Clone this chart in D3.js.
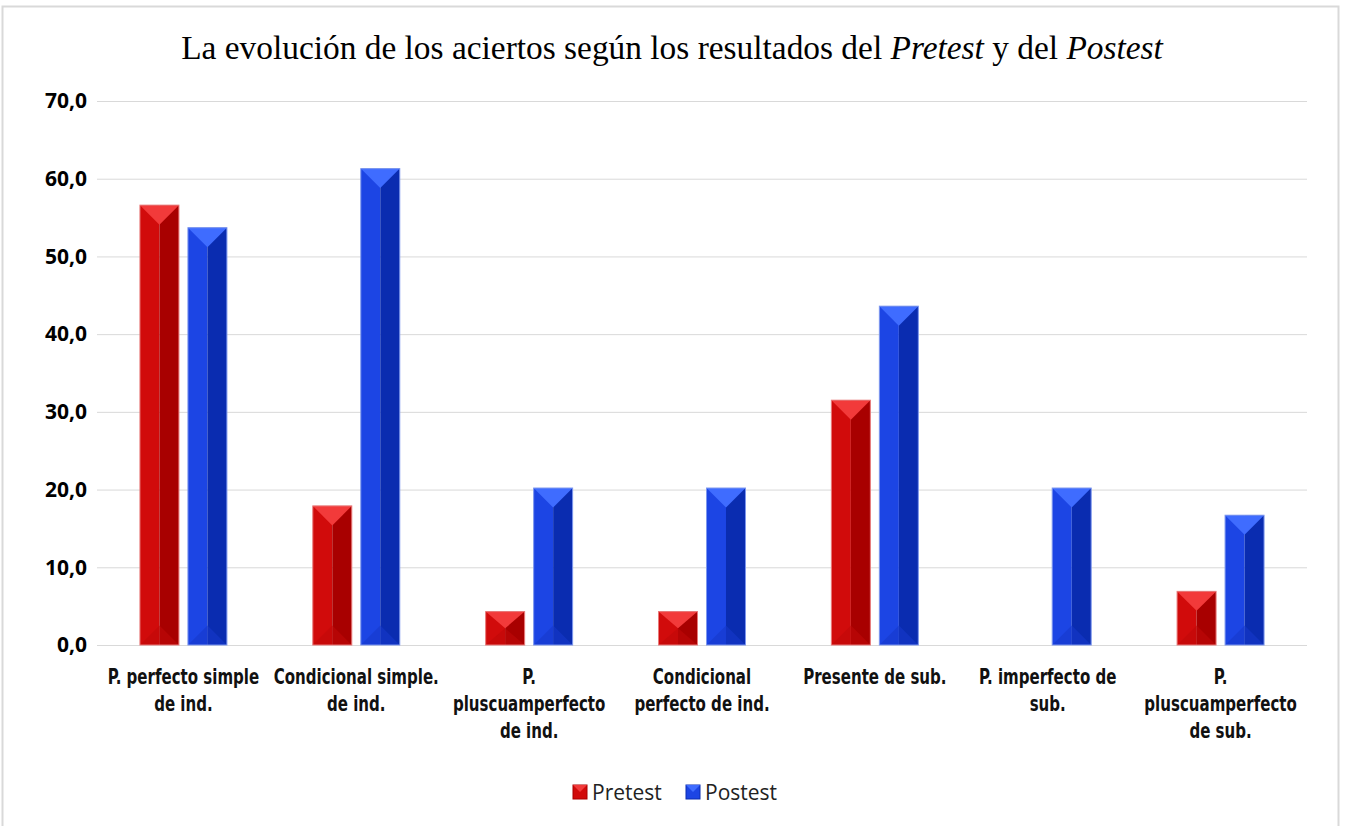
<!DOCTYPE html>
<html>
<head>
<meta charset="utf-8">
<script src="https://cdnjs.cloudflare.com/ajax/libs/d3/7.8.5/d3.min.js"></script>
<style>
  body { margin: 0; background: #fff; }
</style>
</head>
<body>
<script>
const categories = [
  ['P. perfecto simple', 'de ind.'],
  ['Condicional simple.', 'de ind.'],
  ['P.', 'pluscuamperfecto', 'de ind.'],
  ['Condicional', 'perfecto de ind.'],
  ['Presente de sub.'],
  ['P. imperfecto de', 'sub.'],
  ['P.', 'pluscuamperfecto', 'de sub.']
];
const pretest = [56.6, 17.9, 4.3, 4.3, 31.5, 0, 6.9];
const postest = [53.7, 61.3, 20.2, 20.2, 43.6, 20.2, 16.7];
const yTicks = [0, 10, 20, 30, 40, 50, 60, 70];
const seriesNames = ['Pretest', 'Postest'];

const width = 1345;
const height = 826;
const plotLeft = 97, plotRight = 1307, plotTop = 101, plotBottom = 645;

const palette = {
  Pretest: { main: '#d10b0b', dark: '#a80000', cap: '#f23a3a', base: '#c00808', edge: '#e87a7a' },
  Postest: { main: '#1c45e4', dark: '#0a2cb0', cap: '#3f6cff', base: '#1639cc', edge: '#7d97ee' }
};

const svg = d3.select('body')
  .append('svg')
  .attr('width', width)
  .attr('height', height);

// frame
svg.append('rect')
  .attr('x', 2.5).attr('y', 6.5)
  .attr('width', 1336).attr('height', 830)
  .attr('fill', '#fff')
  .attr('stroke', '#d9d9d9')
  .attr('stroke-width', 2);

// title
const title = svg.append('text')
  .attr('x', 672).attr('y', 59)
  .attr('text-anchor', 'middle')
  .style('font-family', '"Liberation Serif", "Times New Roman", serif')
  .style('font-size', '33.4px')
  .style('fill', '#000');
title.append('tspan').text('La evolución de los aciertos según los resultados del ');
title.append('tspan').style('font-style', 'italic').text('Pretest');
title.append('tspan').text(' y del ');
title.append('tspan').style('font-style', 'italic').text('Postest');

const x0 = d3.scaleBand()
  .domain(d3.range(categories.length))
  .range([plotLeft, plotRight]);
const x1 = d3.scaleBand()
  .domain(seriesNames)
  .range([0, x0.bandwidth()])
  .paddingInner(0.1875)
  .paddingOuter(0.895);
const y = d3.scaleLinear()
  .domain([0, 70])
  .range([plotBottom, plotTop]);

// gridlines + y labels
const yAxis = d3.axisLeft(y)
  .tickValues(yTicks)
  .tickSize(-(plotRight - plotLeft))
  .tickPadding(10)
  .tickFormat(d => d3.format('.1f')(d).replace('.', ','));

const gy = svg.append('g')
  .attr('transform', `translate(${plotLeft},0)`)
  .call(yAxis);
gy.select('.domain').remove();
gy.selectAll('.tick line').attr('stroke', '#d9d9d9').attr('stroke-width', 1);
gy.selectAll('.tick text')
  .style('font-family', '"Open Sans", "Noto Sans", sans-serif')
  .style('font-weight', 'bold')
  .style('font-size', '21px')
  .style('fill', '#000');

// bars
const rows = [];
categories.forEach((c, i) => {
  rows.push({ i, s: 'Pretest', v: pretest[i] });
  rows.push({ i, s: 'Postest', v: postest[i] });
});

const bars = svg.append('g')
  .selectAll('g')
  .data(rows.filter(d => d.v > 0))
  .enter()
  .append('g');

bars.each(function (d) {
  const g = d3.select(this);
  const c = palette[d.s];
  const bx = x0(d.i) + x1(d.s);
  const bw = x1.bandwidth();
  const yt = y(d.v);
  const yb = y(0);
  const h = yb - yt;
  const cap = Math.min(bw / 2, h / 2);
  const mid = bx + bw / 2;

  g.append('rect')
    .attr('x', bx).attr('y', yt)
    .attr('width', bw / 2).attr('height', h)
    .attr('fill', c.main);
  g.append('rect')
    .attr('x', mid).attr('y', yt)
    .attr('width', bw / 2).attr('height', h)
    .attr('fill', c.dark);
  g.append('polygon')
    .attr('points', `${bx},${yt} ${bx + bw},${yt} ${mid},${yt + cap}`)
    .attr('fill', c.cap);
  g.append('polygon')
    .attr('points', `${bx},${yb} ${bx + bw},${yb} ${mid},${yb - cap}`)
    .attr('fill', c.base)
    .attr('opacity', 0.6);
  g.append('rect')
    .attr('x', bx).attr('y', yt)
    .attr('width', bw).attr('height', h)
    .attr('fill', 'none')
    .attr('stroke', c.edge)
    .attr('stroke-width', 1);
});

// category labels (tall, narrow lettering)
const labels = svg.append('g')
  .selectAll('text')
  .data(categories)
  .enter()
  .append('text')
  .attr('transform', (d, i) => `translate(${x0(i) + x0.bandwidth() / 2},684) scale(0.76,1)`)
  .attr('text-anchor', 'middle')
  .style('font-family', '"DejaVu Sans Condensed", "DejaVu Sans", sans-serif')
  .style('font-stretch', 'condensed')
  .style('font-weight', 'bold')
  .style('font-size', '22px')
  .style('fill', '#111');

labels.selectAll('tspan')
  .data(d => d)
  .enter()
  .append('tspan')
  .attr('x', 0)
  .attr('dy', (d, i) => i === 0 ? 0 : 27)
  .text(d => d);

// legend
const legend = svg.append('g').attr('transform', 'translate(573,792)');
const items = legend.selectAll('g')
  .data(seriesNames)
  .enter()
  .append('g')
  .attr('transform', (d, i) => `translate(${i * 113},0)`);

items.append('rect')
  .attr('x', 0).attr('y', -7)
  .attr('width', 14).attr('height', 14)
  .attr('fill', d => palette[d].main)
  .attr('stroke', d => palette[d].dark);
items.append('polygon')
  .attr('points', '0,-7 14,-7 7,0')
  .attr('fill', d => palette[d].cap);
items.append('text')
  .attr('x', 19).attr('y', 7.5)
  .style('font-family', '"Open Sans", "Noto Sans", sans-serif')
  .style('font-size', '21px')
  .style('fill', '#222')
  .text(d => d);
</script>
</body>
</html>
